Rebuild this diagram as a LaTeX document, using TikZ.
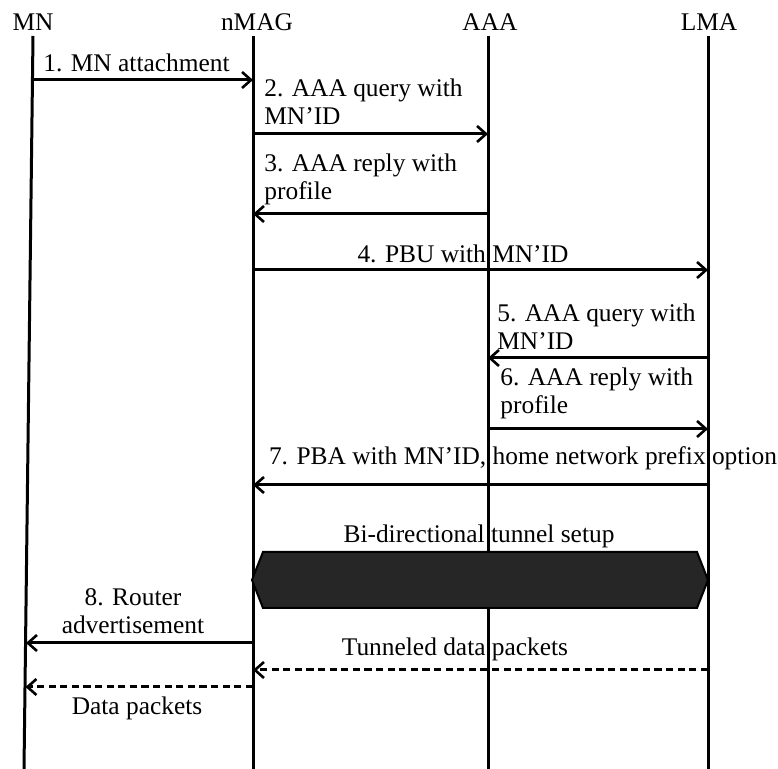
\documentclass[tikz,border=0pt]{standalone}
\usepackage{fontspec}
\setmainfont{Liberation Serif}
\usetikzlibrary{arrows.meta}
\begin{document}
\begin{tikzpicture}[x=0.5pt,y=-0.5pt,
  every node/.style={inner sep=0pt, font=\fontsize{12.7}{14}\selectfont},
  life/.style={line width=1.5pt},
  msg/.style={line width=1.5pt, -{Straight Barb[length=4.5pt,width=8pt,line width=1.3pt]}},
  dmsg/.style={msg, dash pattern=on 3.6pt off 2.2pt},
  lbl/.style={anchor=west, align=left},
  tunnel/.style={draw=black, line width=1pt, fill=black!85}]
\useasboundingbox (0,0) rectangle (778,769);
% lifeline heads
\node (MN) at (33,22) {MN};
\node (nMAG) at (257,22) {nMAG};
\node (AAA) at (490,22) {AAA};
\node (LMA) at (709,22) {LMA};
% lifeline ends
\coordinate (mnT) at (33,36);   \coordinate (mnB) at (24,769);
\coordinate (nmT) at (253,36);  \coordinate (nmB) at (253,769);
\coordinate (aaT) at (488,36);  \coordinate (aaB) at (488,769);
\coordinate (lmT) at (708,36);  \coordinate (lmB) at (708,769);
\draw[life] (mnT) -- (mnB);
\draw[life] (nmT) -- (nmB);
\draw[life] (aaT) -- (aaB);
\draw[life] (lmT) -- (lmB);
% message end points
\coordinate (m1a) at (32.5,80);  \coordinate (m1b) at (253,80);
\coordinate (m2a) at (253,134);  \coordinate (m2b) at (488,134);
\coordinate (m3a) at (488,214);  \coordinate (m3b) at (253,214);
\coordinate (m4a) at (253,270);  \coordinate (m4b) at (708,270);
\coordinate (m5a) at (708,358);  \coordinate (m5b) at (488,358);
\coordinate (m6a) at (488,429);  \coordinate (m6b) at (708,429);
\coordinate (m7a) at (708,485);  \coordinate (m7b) at (253,485);
\coordinate (m8a) at (253,643);  \coordinate (m8b) at (26,643);
\coordinate (m9a) at (708,670);  \coordinate (m9b) at (253,670);
\coordinate (m10a) at (253,687); \coordinate (m10b) at (25.5,687);
\draw[msg] (m1a) -- (m1b);
\draw[msg] (m2a) -- (m2b);
\draw[msg] (m3a) -- (m3b);
\draw[msg] (m4a) -- (m4b);
\draw[msg] (m5a) -- (m5b);
\draw[msg] (m6a) -- (m6b);
\draw[msg] (m7a) -- (m7b);
% tunnel
\draw[tunnel] (252,580) -- (263,552) -- (697,552) -- (708,580) -- (697,608) -- (263,608) -- cycle;
\draw[msg] (m8a) -- (m8b);
\draw[dmsg] (m9a) -- (m9b);
\draw[dmsg] (m10a) -- (m10b);
% labels
\node[lbl] (t1) at (43,63) {1. MN attachment};
\node[lbl] (t2) at (264,102) {2. AAA query with\\MN’ID};
\node[lbl] (t3) at (264,179) {3. AAA reply with\\profile};
\node (t4) at (463,254) {4. PBU with MN’ID};
\node[lbl] (t5) at (497,327) {5. AAA query with\\MN’ID};
\node[lbl] (t6) at (500,393) {6. AAA reply with\\profile};
\node (t7) at (523,458) {7. PBA with MN’ID, home network prefix option};
\node (tt) at (479,536) {Bi-directional tunnel setup};
\node[align=center] (t8) at (133,611) {8. Router\\advertisement};
\node (t9) at (455,649) {Tunneled data packets};
\node (t10) at (137,708) {Data packets};
\end{tikzpicture}
\end{document}
